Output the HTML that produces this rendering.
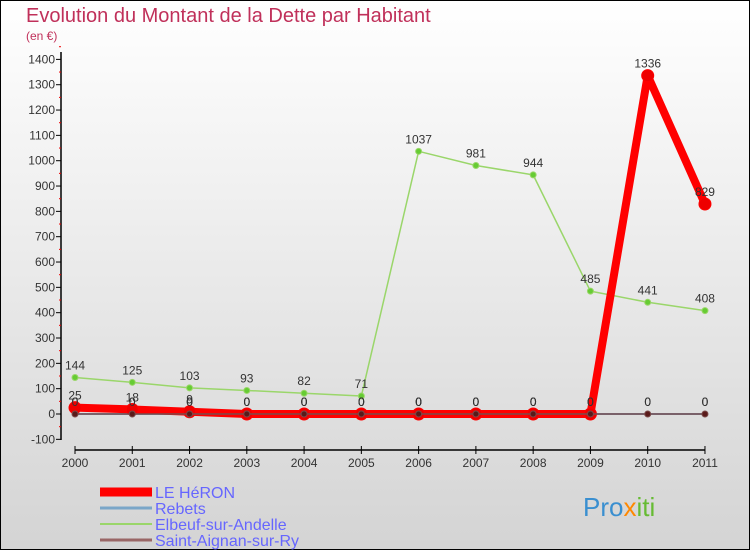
<!DOCTYPE html>
<html><head><meta charset="utf-8"><style>
body{margin:0}
#c{width:750px;height:550px;box-sizing:border-box;border:1px solid #000;background:linear-gradient(#fff,#d4d4d4);position:relative;font-family:"Liberation Sans",sans-serif}
svg text{font-family:"Liberation Sans",sans-serif}
</style></head><body>
<div id="c">
<svg id="s" width="750" height="550" style="position:absolute;left:-1px;top:-1px">
<text x="26" y="22" font-size="20" fill="#c0305a">Evolution du Montant de la Dette par Habitant</text>
<text x="26" y="40" font-size="12" fill="#c0305a">(en €)</text>
<g id="g"></g>
</svg>
</div>
<script>
const years=[2000,2001,2002,2003,2004,2005,2006,2007,2008,2009,2010,2011];
const heron=[25,18,9,0,0,0,0,0,0,0,1336,829];
const rebets=[0,0,0,0,0,0,0,0,0,0,0,0];
const elbeuf=[144,125,103,93,82,71,1037,981,944,485,441,408];
const aignan=[0,0,0,0,0,0,0,0,0,0,0,0];
const yTicks=[-100,0,100,200,300,400,500,600,700,800,900,1000,1100,1200,1300,1400];
const seriesNames=["LE HéRON","Rebets","Elbeuf-sur-Andelle","Saint-Aignan-sur-Ry"];
const NS="http://www.w3.org/2000/svg";
const g=document.getElementById('g');
const X=i=>75+i*57.27;
const Y=v=>414-v*0.2533;
function el(t,a,p){const e=document.createElementNS(NS,t);for(const k in a)e.setAttribute(k,a[k]);(p||g).appendChild(e);return e;}
let ax=el('line',{x1:61,y1:52,x2:61,y2:440,stroke:'#000','stroke-width':1.5});


yTicks.forEach(v=>{
 el('line',{x1:56,x2:61,y1:Y(v),y2:Y(v),stroke:'#000'});
 el('line',{x1:59,x2:61,y1:Y(v+50),y2:Y(v+50),stroke:'#e00'});
 const t=el('text',{x:55,y:Y(v)+4,'text-anchor':'end','font-size':12,fill:'#333'});t.textContent=v;
 
 
});
let xa=el('line',{x1:75,y1:450,x2:705,y2:450,stroke:'#000','stroke-width':1.5});


years.forEach((y,i)=>{
 el('line',{x1:X(i),x2:X(i),y1:446,y2:454,stroke:'#000'});
 const t=el('text',{x:X(i),y:467,'text-anchor':'middle','font-size':12,fill:'#333'});t.textContent=y;
 
 
});
function series(d,col,w,r,dot,name,lab){
 const p=el('polyline',{points:d.map((v,i)=>X(i)+','+Y(v)).join(' '),fill:'none',stroke:col,'stroke-width':w,'stroke-linejoin':'round'});
 
 
 d.forEach((v,i)=>{
  const c=el('circle',{cx:X(i),cy:Y(v),r:r,fill:dot,stroke:col,'stroke-width':1});
  
  
  if(lab){const t=el('text',{x:X(i),y:Y(v)-8,'text-anchor':'middle','font-size':12,fill:'#333'});t.textContent=v;
  
  }
 });
}
series(elbeuf,'#9ad66a',1.5,3,'#6c3','elbeuf',true);
series(rebets,'#7aa6c8',2,2.5,'#7aa6c8','rebets',true);
series(heron,'#f00',8,6,'#e00','le-heron',true);
series(aignan,'#7a4a4a',1.5,3,'#5a1a1a','saint-aignan',true);
const lc=['#f00','#7aa6c8','#9ad66a','#966'],lw=[9,3,2,3];
seriesNames.forEach((n,i)=>{
 const yy=492+i*16;
 const l=el('line',{x1:100,x2:152,y1:yy,y2:yy,stroke:lc[i],'stroke-width':lw[i]});
 
 
 const t=el('text',{x:155,y:yy+6,'font-size':16,fill:'#66f'});t.textContent=n;
 
 
});
const lg=el('text',{x:583,y:516,'font-size':26,fill:'#3a8fd0'});


lg.innerHTML='Pro<tspan fill="#f80">x</tspan><tspan fill="#6b3">iti</tspan>';
</script>
</body></html>
